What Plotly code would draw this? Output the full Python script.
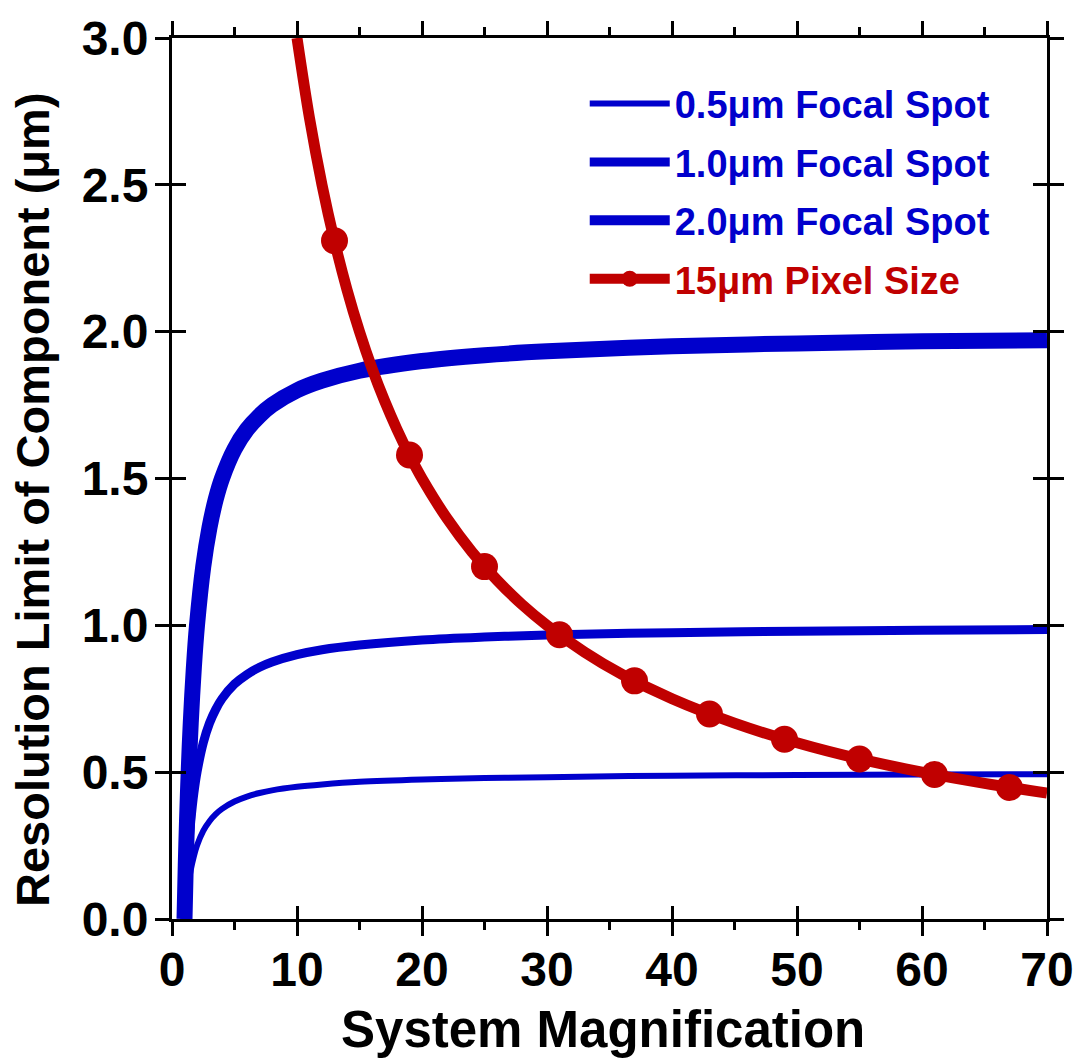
import plotly.graph_objects as go

# Blue focal-spot curves
mag = [1.0, 1.1, 1.2, 1.35, 1.5, 1.75, 2, 2.5, 3, 3.5, 4, 5, 6, 7, 8, 10, 12, 15,
       20, 25, 30, 40, 50, 60, 70]
spot_2_0 = [0.0, 0.182, 0.333, 0.519, 0.667, 0.857, 1.0, 1.2, 1.333, 1.429, 1.5, 1.6,
            1.667, 1.714, 1.75, 1.8, 1.833, 1.867, 1.9, 1.92, 1.933, 1.95, 1.96, 1.967, 1.971]
spot_1_0 = [0.0, 0.091, 0.167, 0.259, 0.333, 0.429, 0.5, 0.6, 0.667, 0.714, 0.75, 0.8,
            0.833, 0.857, 0.875, 0.9, 0.917, 0.933, 0.95, 0.96, 0.967, 0.975, 0.98, 0.983, 0.986]
spot_0_5 = [0.0, 0.045, 0.083, 0.13, 0.167, 0.214, 0.25, 0.3, 0.333, 0.357, 0.375, 0.4,
            0.417, 0.429, 0.438, 0.45, 0.458, 0.467, 0.475, 0.48, 0.483, 0.488, 0.49, 0.492, 0.493]

# Red pixel-size curve
pix_x = [10, 11, 12, 13, 14, 15, 16, 17, 18, 19, 20, 22, 24, 26, 28, 30, 33, 36, 40,
         45, 50, 55, 60, 65, 70]
pix_y = [3.0, 2.727, 2.5, 2.308, 2.143, 2.0, 1.875, 1.765, 1.667, 1.579, 1.5, 1.364,
         1.25, 1.154, 1.071, 1.0, 0.909, 0.833, 0.75, 0.667, 0.6, 0.545, 0.5, 0.462, 0.429]
mark_x = [13, 19, 25, 31, 37, 43, 49, 55, 61, 67]
mark_y = [2.31, 1.58, 1.2, 0.968, 0.811, 0.698, 0.612, 0.545, 0.492, 0.448]

names = ["0.5μm Focal Spot", "1.0μm Focal Spot", "2.0μm Focal Spot", "15μm Pixel Size"]
x_ticks = [0, 10, 20, 30, 40, 50, 60, 70]
y_ticks = [0.0, 0.5, 1.0, 1.5, 2.0, 2.5, 3.0]
x_title = "System Magnification"
y_title = "Resolution Limit of Component (μm)"

BLUE = "#0000CC"
RED = "#C00000"
FONT = "Liberation Sans"

fig = go.Figure()
for ys, w, nm, g in [(spot_0_5, 6, names[0], "a"), (spot_1_0, 9, names[1], "b"),
                     (spot_2_0, 16, names[2], "c")]:
    fig.add_trace(go.Scatter(x=mag, y=ys, mode="lines", line=dict(color=BLUE, width=w, shape="spline"),
                             name=f"<span style='color:{BLUE}'>{nm}</span>", legendgroup=g))
fig.add_trace(go.Scatter(x=pix_x, y=pix_y, mode="lines", line=dict(color=RED, width=11, shape="spline"),
                         showlegend=False))
fig.add_trace(go.Scatter(x=mark_x, y=mark_y, mode="markers", marker=dict(color=RED, size=27),
                         showlegend=False))
fig.add_trace(go.Scatter(x=[None], y=[None], mode="lines+markers",
                         line=dict(color=RED, width=11), marker=dict(color=RED, size=27),
                         name=f"<span style='color:{RED}'>{names[3]}</span>", legendgroup="d"))
# empty trace on overlay axes that carry the inner halves of the crossing ticks
fig.add_trace(go.Scatter(x=[None], y=[None], xaxis="x2", yaxis="y2", showlegend=False,
                         hoverinfo="skip"))

tickfont = dict(family=FONT, size=48, color="black", weight="bold")
fig.update_layout(
    width=1086, height=1064,
    margin=dict(l=172, r=32, t=36, b=145),
    paper_bgcolor="white", plot_bgcolor="white",
    font=dict(family=FONT, color="black"),
    xaxis=dict(range=[0, 70], tickvals=x_ticks, showgrid=False, zeroline=False,
               showline=True, linecolor="black", linewidth=3, mirror="ticks",
               ticks="outside", ticklen=14, tickwidth=3, tickcolor="black",
               minor=dict(dtick=5, ticks="outside", ticklen=8, tickwidth=3, tickcolor="black"),
               tickfont=tickfont, ticklabelstandoff=-8),
    yaxis=dict(range=[0, 3], tickvals=y_ticks, tickformat=".1f", showgrid=False, zeroline=False,
               showline=True, linecolor="black", linewidth=3, mirror="ticks",
               ticks="outside", ticklen=14, tickwidth=3, tickcolor="black",
               tickfont=tickfont, ticklabelstandoff=-3),
    xaxis2=dict(range=[0, 70], tickvals=x_ticks, overlaying="x", anchor="y2", side="bottom",
                showticklabels=False, showgrid=False, zeroline=False, showline=False,
                ticks="inside", ticklen=13, tickwidth=3, tickcolor="black"),
    yaxis2=dict(range=[0, 3], tickvals=y_ticks, overlaying="y", anchor="x2", side="left",
                showticklabels=False, showgrid=False, zeroline=False,
                showline=True, linecolor="black", linewidth=3, mirror="ticks",
                ticks="inside", ticklen=14, tickwidth=3, tickcolor="black"),
    legend=dict(x=0.4717, y=0.961, xanchor="left", yanchor="top", bgcolor="rgba(0,0,0,0)",
                font=dict(family=FONT, size=38, weight="bold"), tracegroupgap=6,
                itemwidth=80),
    annotations=[
        dict(text=y_title, textangle=-90, xref="paper", yref="paper",
             x=-0.1587, y=0.4757, xanchor="center", yanchor="middle", showarrow=False,
             font=dict(family=FONT, size=47, color="black", weight="bold")),
        dict(text=x_title, xref="paper", yref="paper",
             x=0.492, y=-0.1257, xanchor="center", yanchor="middle", showarrow=False,
             font=dict(family=FONT, size=51, color="black", weight="bold")),
    ],
    showlegend=True,
)

fig.write_html("out.html")
